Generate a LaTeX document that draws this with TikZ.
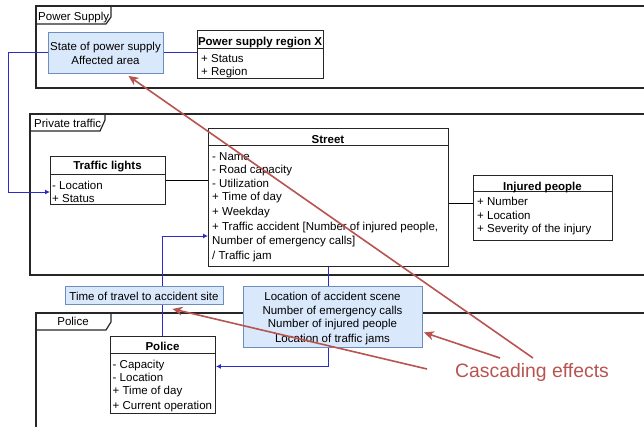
\documentclass[tikz,border=0pt]{standalone}
\usepackage{tikz}
\usepackage{fontspec}
\setmainfont{Liberation Sans}
\usetikzlibrary{arrows.meta}
\pgfdeclarelayer{bg}
\pgfsetlayers{bg,main}
\definecolor{bfill}{HTML}{DAE8FC}
\definecolor{bdraw}{HTML}{6C8EBF}
\definecolor{conn}{HTML}{2B2BCC}
\definecolor{casccol}{HTML}{B85450}
\tikzset{
  txt/.style={inner sep=0pt, text height=8.2pt, text depth=0pt, font=\fontsize{11.5}{13}\selectfont},
  attr/.style={txt, anchor=west},
  ttl/.style={txt, font=\fontsize{11.5}{13}\selectfont\bfseries},
  frame/.style={draw=black!85, line width=1.2pt},
  cls/.style={draw=black!85, fill=white, line width=0.9pt, anchor=north west, inner sep=0pt},
  infobox/.style={draw=bdraw, fill=bfill, line width=0.9pt, anchor=north west, inner sep=0pt},
  bconn/.style={draw=conn, line width=1pt},
  barrow/.style={bconn, -{Latex[length=5pt,width=5pt]}},
  kconn/.style={draw=black, line width=0.9pt},
  cascarrow/.style={draw=casccol, line width=1.6pt, -{Stealth[length=10pt,width=9pt,inset=3pt]}},
}
\begin{document}
\begin{tikzpicture}[x=1pt,y=-1pt]
\useasboundingbox (0,0) rectangle (644,426);

% ---------- boxes ----------
\node[infobox, minimum width=115pt, minimum height=41pt] (st) at (48,32) {};
\node[cls, minimum width=126pt, minimum height=48pt] (psr) at (197,30) {};
\node[cls, minimum width=115pt, minimum height=48pt] (tl) at (50,156) {};
\node[cls, minimum width=240pt, minimum height=138pt] (sr) at (208,128) {};
\node[cls, minimum width=139pt, minimum height=65pt] (ip) at (473,175) {};
\node[cls, minimum width=105pt, minimum height=77pt] (pl) at (110,336) {};
\node[infobox, minimum width=158pt, minimum height=18pt] (tt) at (65,286) {};
\node[infobox, minimum width=179pt, minimum height=61pt] (lb) at (243,286) {};

% header separators
\draw[line width=0.9pt, black!85] ([yshift=-18pt]psr.north west) -- ([yshift=-18pt]psr.north east);
\draw[line width=0.9pt, black!85] ([yshift=-18pt]tl.north west) -- ([yshift=-18pt]tl.north east);
\draw[line width=0.9pt, black!85] ([yshift=-17pt]sr.north west) -- ([yshift=-17pt]sr.north east);
\draw[line width=0.9pt, black!85] ([yshift=-16pt]ip.north west) -- ([yshift=-16pt]ip.north east);
\draw[line width=0.9pt, black!85] ([yshift=-17pt]pl.north west) -- ([yshift=-17pt]pl.north east);

% ---------- frames and connectors (background) ----------
\coordinate (lbend) at (8,192);
\coordinate (ipin) at ([yshift=4.5pt]ip.west);
\coordinate (sin) at ([yshift=-108pt]sr.north west);
\coordinate (plin) at ([yshift=8.5pt]pl.east);
\begin{pgfonlayer}{bg}
  \draw[frame] (36,6) rectangle (647,88);
  \draw[frame] (36,24) -- (106,24) -- (111,17) -- (111,6);
  \draw[frame] (30,114) rectangle (647,275);
  \draw[frame] (30,131) -- (100,131) -- (105,120) -- (105,114);
  \draw[frame] (647,313) -- (36,313) -- (36,430);
  \draw[frame] (36,330) -- (106,330) -- (111,322) -- (111,313);

  \draw[bconn] (st.east) -- (st.east -| psr.west);
  \draw[barrow] (st.west) -| (lbend) -- (lbend -| tl.west);
  \draw[kconn] (tl.east) -- (tl.east -| sr.west);
  \draw[kconn] (ipin -| sr.east) -- (ipin);
  \draw[barrow] (pl.north) |- (sin);
  \draw[barrow] (sr.south) |- (plin);
\end{pgfonlayer}

% ---------- frame labels ----------
\node[attr] (lps) at (38,16.3) {Power Supply};
\node[attr] (lpt) at (34,123) {Private traffic};
\node[txt] (lpo) at (73,321.7) {Police};

% ---------- texts ----------
\node[txt] (st1) at (105.5,46.5) {State of power supply};
\node[txt] (st2) at (105.5,60.5) {Affected area};

\node[ttl] (psrt) at (260,41.5) {Power supply region X};
\node[attr] (psr1) at (201,58) {+ Status};
\node[attr] (psr2) at (201,71.5) {+ Region};

\node[ttl] (tlt) at (107.5,165.5) {Traffic lights};
\node[attr] (tl1) at (52,185) {- Location};
\node[attr] (tl2) at (52,198) {+ Status};

\node[ttl] (srt) at (328,139) {Street};
\node[attr] (sr1) at (212,156) {- Name};
\node[attr] (sr2) at (212,169) {- Road capacity};
\node[attr] (sr3) at (212,183.3) {- Utilization};
\node[attr] (sr4) at (212,196.7) {+ Time of day};
\node[attr] (sr5) at (212,211.3) {+ Weekday};
\node[attr] (sr6) at (212,226) {+ Traffic accident [Number of injured people,};
\node[attr] (sr7) at (212,240) {Number of emergency calls]};
\node[attr] (sr8) at (212,255.3) {/ Traffic jam};

\node[ttl] (ipt) at (542.5,186) {Injured people};
\node[attr] (ip1) at (477,201.7) {+ Number};
\node[attr] (ip2) at (477,215) {+ Location};
\node[attr] (ip3) at (477,228) {+ Severity of the injury};

\node[txt] (tt1) at (144,296) {Time of travel to accident site};

\node[txt] (lb1) at (332.5,296.7) {Location of accident scene};
\node[txt] (lb2) at (332.5,310.8) {Number of emergency calls};
\node[txt] (lb3) at (332.5,323.5) {Number of injured people};
\node[txt] (lb4) at (332.5,338) {Location of traffic jams};

\node[ttl] (plt) at (162.5,346) {Police};
\node[attr] (pl1) at (112.5,364.2) {- Capacity};
\node[attr] (pl2) at (112.5,377.5) {- Location};
\node[attr] (pl3) at (112.5,390.7) {+ Time of day};
\node[attr] (pl4) at (112.5,405.8) {+ Current operation};

% ---------- cascading effects ----------
\node[inner sep=0pt, text height=14pt, text depth=0pt, font=\fontsize{19.4}{22}\selectfont, text=casccol] (casc) at (532,370) {Cascading effects};
\coordinate (t1) at (533,358);
\coordinate (t2) at (427,369);
\coordinate (t3) at (500,358);
\draw[cascarrow] (t1) -- ([xshift=22.5pt,yshift=-2pt]st.south);
\draw[cascarrow] (t2) -- ([xshift=28pt,yshift=-4pt]tt.south);
\draw[cascarrow] (t3) -- ([xshift=1pt,yshift=-15.5pt]lb.east);
\end{tikzpicture}
\end{document}
